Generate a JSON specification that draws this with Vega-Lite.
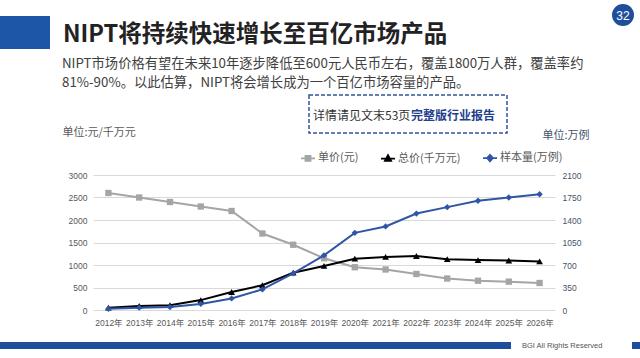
{
  "$schema": "https://vega.github.io/schema/vega-lite/v6.json",
  "width": 462,
  "height": 135,
  "autosize": {"type": "none"},
  "padding": {"left": 93, "top": 175, "right": 85, "bottom": 48},
  "background": "white",
  "config": {"view": {"stroke": null}},
  "data": {"values": [
    {"year": "2012年", "series": "单价(元)", "value": 2600},
    {"year": "2013年", "series": "单价(元)", "value": 2500},
    {"year": "2014年", "series": "单价(元)", "value": 2400},
    {"year": "2015年", "series": "单价(元)", "value": 2300},
    {"year": "2016年", "series": "单价(元)", "value": 2200},
    {"year": "2017年", "series": "单价(元)", "value": 1700},
    {"year": "2018年", "series": "单价(元)", "value": 1450},
    {"year": "2019年", "series": "单价(元)", "value": 1150},
    {"year": "2020年", "series": "单价(元)", "value": 950},
    {"year": "2021年", "series": "单价(元)", "value": 900},
    {"year": "2022年", "series": "单价(元)", "value": 800},
    {"year": "2023年", "series": "单价(元)", "value": 700},
    {"year": "2024年", "series": "单价(元)", "value": 650},
    {"year": "2025年", "series": "单价(元)", "value": 630},
    {"year": "2026年", "series": "单价(元)", "value": 600},
    {"year": "2012年", "series": "总价(千万元)", "value": 52},
    {"year": "2013年", "series": "总价(千万元)", "value": 90},
    {"year": "2014年", "series": "总价(千万元)", "value": 108},
    {"year": "2015年", "series": "总价(千万元)", "value": 220},
    {"year": "2016年", "series": "总价(千万元)", "value": 400},
    {"year": "2017年", "series": "总价(千万元)", "value": 550},
    {"year": "2018年", "series": "总价(千万元)", "value": 830},
    {"year": "2019年", "series": "总价(千万元)", "value": 980},
    {"year": "2020年", "series": "总价(千万元)", "value": 1140},
    {"year": "2021年", "series": "总价(千万元)", "value": 1180},
    {"year": "2022年", "series": "总价(千万元)", "value": 1200},
    {"year": "2023年", "series": "总价(千万元)", "value": 1130},
    {"year": "2024年", "series": "总价(千万元)", "value": 1110},
    {"year": "2025年", "series": "总价(千万元)", "value": 1100},
    {"year": "2026年", "series": "总价(千万元)", "value": 1080},
    {"year": "2012年", "series": "样本量(万例)", "value": 20},
    {"year": "2013年", "series": "样本量(万例)", "value": 36},
    {"year": "2014年", "series": "样本量(万例)", "value": 45},
    {"year": "2015年", "series": "样本量(万例)", "value": 95},
    {"year": "2016年", "series": "样本量(万例)", "value": 180},
    {"year": "2017年", "series": "样本量(万例)", "value": 320},
    {"year": "2018年", "series": "样本量(万例)", "value": 570},
    {"year": "2019年", "series": "样本量(万例)", "value": 850},
    {"year": "2020年", "series": "样本量(万例)", "value": 1200},
    {"year": "2021年", "series": "样本量(万例)", "value": 1300},
    {"year": "2022年", "series": "样本量(万例)", "value": 1500},
    {"year": "2023年", "series": "样本量(万例)", "value": 1600},
    {"year": "2024年", "series": "样本量(万例)", "value": 1700},
    {"year": "2025年", "series": "样本量(万例)", "value": 1750},
    {"year": "2026年", "series": "样本量(万例)", "value": 1800}
  ]},
  "layer": [
    {
      "transform": [{"filter": "datum.series !== '样本量(万例)'"}],
      "encoding": {
        "x": {"field": "year", "type": "ordinal", "sort": null,
          "scale": {"type": "point", "padding": 0.5},
          "axis": {"title": null, "domain": false, "ticks": false, "tickSize": 0, "grid": false, "labelAngle": 0, "labelPadding": 8, "labelFontSize": 8.5, "labelColor": "#595959", "labelFont": "Liberation Sans, Noto Sans CJK SC"}},
        "y": {"field": "value", "type": "quantitative",
          "scale": {"domain": [0, 3000], "nice": false, "zero": true},
          "axis": {"orient": "left", "values": [0, 500, 1000, 1500, 2000, 2500, 3000], "format": "d", "domain": false, "ticks": false, "tickSize": 0, "grid": true, "gridColor": "#d9d9d9", "gridWidth": 1, "labelPadding": 6, "labelFontSize": 8.5, "labelColor": "#595959", "labelFont": "Liberation Sans",
            "title": "单位:元/千万元", "titleAngle": 0, "titleX": -31, "titleY": -43, "titleAlign": "left", "titleBaseline": "middle", "titleFont": "Noto Sans CJK SC", "titleFontSize": 11, "titleFontWeight": "normal", "titleColor": "#595959"}},
        "color": {"field": "series", "type": "nominal",
          "scale": {"domain": ["单价(元)", "总价(千万元)", "样本量(万例)"], "range": ["#a5a5a5", "#000000", "#2f56a6"]},
          "legend": {"title": null, "orient": "none", "legendX": 207, "legendY": -25, "direction": "horizontal", "padding": 0, "symbolSize": 196, "labelOffset": 2, "columnPadding": 18, "labelFont": "Noto Sans CJK SC", "labelFontSize": 11, "labelColor": "#595959",
            "encode": {"symbols": {"update": {
              "shape": {"signal": "datum.value === '单价(元)' ? 'M-1,0H1M-0.36,-0.36H0.36V0.36H-0.36Z' : datum.value === '总价(千万元)' ? 'M-1,0H1M0,-0.48L0.44,0.32H-0.44Z' : 'M-1,0H1M0,-0.46L0.4,0L0,0.46L-0.4,0Z'"},
              "fill": {"scale": "color", "field": "value"},
              "stroke": {"scale": "color", "field": "value"},
              "strokeWidth": {"value": 1.8},
              "opacity": {"value": 1},
              "fillOpacity": {"value": 1},
              "strokeOpacity": {"value": 1}
            }}}}}
      },
      "layer": [
        {"mark": {"type": "line", "strokeWidth": 2}},
        {"transform": [{"filter": "datum.series === '单价(元)'"}],
          "mark": {"type": "point", "shape": "square", "filled": true, "opacity": 1, "size": 40}},
        {"transform": [{"filter": "datum.series === '总价(千万元)'"}],
          "mark": {"type": "point", "shape": "triangle-up", "filled": true, "opacity": 1, "size": 45}}
      ]
    },
    {
      "transform": [{"filter": "datum.series === '样本量(万例)'"}],
      "encoding": {
        "x": {"field": "year", "type": "ordinal", "sort": null,
          "scale": {"type": "point", "padding": 0.5},
          "axis": {"title": null, "domain": false, "ticks": false, "tickSize": 0, "grid": false, "labelAngle": 0, "labelPadding": 8, "labelFontSize": 8.5, "labelColor": "#595959", "labelFont": "Liberation Sans, Noto Sans CJK SC"}},
        "y": {"field": "value", "type": "quantitative",
          "scale": {"domain": [0, 2100], "nice": false, "zero": true},
          "axis": {"orient": "right", "values": [0, 350, 700, 1050, 1400, 1750, 2100], "format": "d", "domain": false, "ticks": false, "tickSize": 0, "grid": false, "labelPadding": 7, "labelFontSize": 8.5, "labelColor": "#44546a", "labelFont": "Liberation Sans",
            "title": "单位:万例", "titleAngle": 0, "titleX": -13, "titleY": -40, "titleAlign": "left", "titleBaseline": "middle", "titleFont": "Noto Sans CJK SC", "titleFontSize": 11, "titleFontWeight": "normal", "titleColor": "#44546a"}},
        "color": {"field": "series", "type": "nominal",
          "scale": {"domain": ["单价(元)", "总价(千万元)", "样本量(万例)"], "range": ["#a5a5a5", "#000000", "#2f56a6"]},
          "legend": {"title": null, "orient": "none", "legendX": 207, "legendY": -25, "direction": "horizontal", "padding": 0, "symbolSize": 196, "labelOffset": 2, "columnPadding": 18, "labelFont": "Noto Sans CJK SC", "labelFontSize": 11, "labelColor": "#595959",
            "encode": {"symbols": {"update": {
              "shape": {"signal": "datum.value === '单价(元)' ? 'M-1,0H1M-0.36,-0.36H0.36V0.36H-0.36Z' : datum.value === '总价(千万元)' ? 'M-1,0H1M0,-0.48L0.44,0.32H-0.44Z' : 'M-1,0H1M0,-0.46L0.4,0L0,0.46L-0.4,0Z'"},
              "fill": {"scale": "color", "field": "value"},
              "stroke": {"scale": "color", "field": "value"},
              "strokeWidth": {"value": 1.8},
              "opacity": {"value": 1},
              "fillOpacity": {"value": 1},
              "strokeOpacity": {"value": 1}
            }}}}}
      },
      "layer": [
        {"mark": {"type": "line", "strokeWidth": 2}},
        {"mark": {"type": "point", "shape": "diamond", "filled": true, "opacity": 1, "size": 40}}
      ]
    },
    {
      "data": {"values": [{"k": "bar"}]},
      "mark": {"type": "rect", "color": "#1d56a6"},
      "encoding": {"x": {"value": -93}, "x2": {"value": -43}, "y": {"value": -159}, "y2": {"value": -126}}
    },
    {
      "data": {"values": [{"t": "NIPT将持续快速增长至百亿市场产品"}]},
      "mark": {"type": "text", "align": "left", "baseline": "alphabetic", "font": "Noto Sans CJK SC", "fontSize": 23.5, "fontWeight": "bold", "color": "#222222"},
      "encoding": {"x": {"value": -30}, "y": {"value": -133}, "text": {"field": "t"}}
    },
    {
      "data": {"values": [{"t": "NIPT市场价格有望在未来10年逐步降低至600元人民币左右，覆盖1800万人群，覆盖率约"}]},
      "mark": {"type": "text", "align": "left", "baseline": "middle", "font": "Noto Sans CJK SC", "fontSize": 13.3, "color": "#404040"},
      "encoding": {"x": {"value": -31}, "y": {"value": -111.5}, "text": {"field": "t"}}
    },
    {
      "data": {"values": [{"t": "81%-90%。以此估算，NIPT将会增长成为一个百亿市场容量的产品。"}]},
      "mark": {"type": "text", "align": "left", "baseline": "middle", "font": "Noto Sans CJK SC", "fontSize": 13.3, "color": "#404040"},
      "encoding": {"x": {"value": -31}, "y": {"value": -92.5}, "text": {"field": "t"}}
    },
    {
      "data": {"values": [{"k": "page"}]},
      "mark": {"type": "point", "shape": "circle", "filled": true, "size": 484, "color": "#1f4e9c", "opacity": 1},
      "encoding": {"x": {"value": 530}, "y": {"value": -160}}
    },
    {
      "data": {"values": [{"t": "32"}]},
      "mark": {"type": "text", "align": "center", "baseline": "middle", "font": "Liberation Sans", "fontSize": 12, "color": "#ffffff"},
      "encoding": {"x": {"value": 530}, "y": {"value": -159.5}, "text": {"field": "t"}}
    },
    {
      "data": {"values": [{"k": "box"}]},
      "mark": {"type": "rect", "filled": false, "stroke": "#2f5597", "strokeWidth": 1.5, "strokeDash": [4, 2]},
      "encoding": {"x": {"value": 216}, "x2": {"value": 414}, "y": {"value": -80}, "y2": {"value": -42}}
    },
    {
      "data": {"values": [{"t": "详情请见文末53页"}]},
      "mark": {"type": "text", "align": "left", "baseline": "middle", "font": "Noto Sans CJK SC", "fontSize": 12, "color": "#333333"},
      "encoding": {"x": {"value": 220}, "y": {"value": -59.3}, "text": {"field": "t"}}
    },
    {
      "data": {"values": [{"t": "完整版行业报告"}]},
      "mark": {"type": "text", "align": "left", "baseline": "middle", "font": "Noto Sans CJK SC", "fontSize": 12, "fontWeight": "bold", "color": "#1f3f8f"},
      "encoding": {"x": {"value": 318}, "y": {"value": -59.3}, "text": {"field": "t"}}
    },
    {
      "data": {"values": [{"k": "footL"}]},
      "mark": {"type": "rect", "color": "#1f4e9c"},
      "encoding": {"x": {"value": -93}, "x2": {"value": 418}, "y": {"value": 167}, "y2": {"value": 174}}
    },
    {
      "data": {"values": [{"k": "footR"}]},
      "mark": {"type": "rect", "color": "#1f4e9c"},
      "encoding": {"x": {"value": 539}, "x2": {"value": 547}, "y": {"value": 167}, "y2": {"value": 174}}
    },
    {
      "data": {"values": [{"t": "BGI All Rights Reserved"}]},
      "mark": {"type": "text", "align": "left", "baseline": "middle", "font": "Liberation Sans", "fontSize": 7.5, "color": "#555555"},
      "encoding": {"x": {"value": 429}, "y": {"value": 171}, "text": {"field": "t"}}
    }
  ],
  "resolve": {"scale": {"y": "independent"}}
}
